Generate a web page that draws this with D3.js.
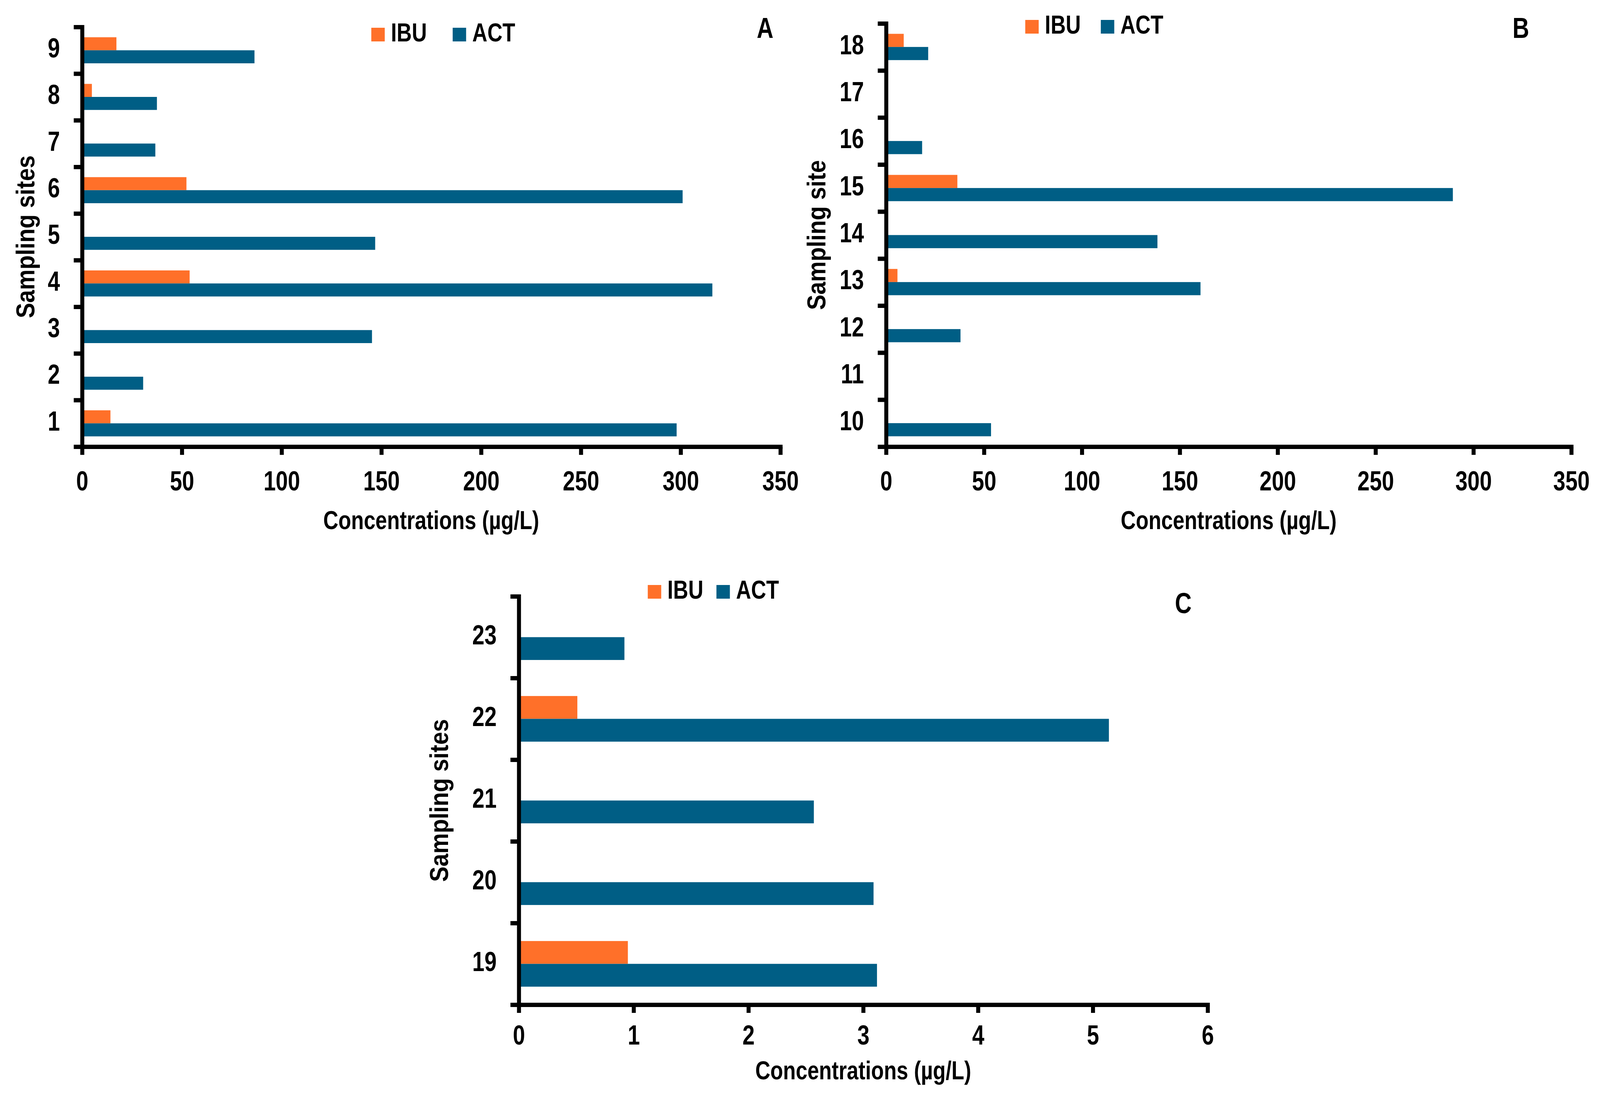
<!DOCTYPE html>
<html>
<head>
<meta charset="utf-8">
<script src="https://cdn.jsdelivr.net/npm/d3@7"></script>
<style>
  html, body { margin: 0; padding: 0; background: #fff; overflow: hidden; }
  #graph svg { display: block; width: 100vw; height: 100vh; }
  svg text { font-family: 'Liberation Sans', Arial, sans-serif; font-weight: bold; fill: #000; }
</style>
</head>
<body>
<div id="graph"></div>
<script>
// data
const sitesA = ['1', '2', '3', '4', '5', '6', '7', '8', '9']
const ibuA = [14.2, 0, 0, 53.9, 0, 52.3, 0, 4.9, 17.2]
const actA = [298.0, 30.6, 145.3, 315.9, 146.9, 301.0, 36.7, 37.5, 86.4]

const sitesB = ['10', '11', '12', '13', '14', '15', '16', '17', '18']
const ibuB = [0, 0, 0, 5.8, 0, 36.4, 0, 0, 9.0]
const actB = [53.6, 0, 38.0, 160.6, 138.6, 289.5, 18.4, 0, 21.5]

const sitesC = ['19', '20', '21', '22', '23']
const ibuC = [0.95, 0, 0, 0.51, 0]
const actC = [3.12, 3.09, 2.57, 5.14, 0.92]

const ticksAB = [0, 50, 100, 150, 200, 250, 300, 350]
const ticksC = [0, 1, 2, 3, 4, 5, 6]

const series = ['IBU', 'ACT']
const colors = { IBU: '#ff7029', ACT: '#005e85' }
const xTitle = 'Concentrations (µg/L)'

const W = 4404
const H = 2797

const svg = d3.select('#graph').append('svg')
  .attr('viewBox', `0 0 ${W} ${H}`)
  .attr('preserveAspectRatio', 'none')

// layout of the three panels (pixels)
const panels = [
  { sites: sitesA, ibu: ibuA, act: actA, max: 350, ticks: ticksAB, letter: 'A', yTitle: 'Sampling sites',
    left: 226, right: 2148, top: 69, bottom: 1143, yTitleX: 95, xTitleY: 1354, tickY: 112,
    letterX: 2106, letterY: 97, legendX: [1022, 1246], legendY: 106 },
  { sites: sitesB, ibu: ibuB, act: actB, max: 350, ticks: ticksAB, letter: 'B', yTitle: 'Sampling site',
    left: 2439, right: 4325, top: 60, bottom: 1143, yTitleX: 2272, xTitleY: 1354, tickY: 112,
    letterX: 4186, letterY: 97, legendX: [2822, 3030], legendY: 86 },
  { sites: sitesC, ibu: ibuC, act: actC, max: 6, ticks: ticksC, letter: 'C', yTitle: 'Sampling sites',
    left: 1428, right: 3324, top: 1526, bottom: 2571, yTitleX: 1233, xTitleY: 2762, tickY: 102,
    letterX: 3257, letterY: 1569, legendX: [1783, 1972], legendY: 1532 }
]

const axisWidth = 11
const squeeze = 0.86 // the figure uses a narrow bold face

const drawPanel = (p) => {
  const g = svg.append('g')

  const x = d3.scaleLinear().domain([0, p.max]).range([p.left, p.right])
  const y = d3.scaleBand().domain(p.sites.slice().reverse()).range([p.top, p.bottom])
  const yInner = d3.scaleBand().domain(series).range([0, y.bandwidth()])
    .paddingInner(0).paddingOuter(0.79)
  const yEdge = d3.scaleLinear().domain([0, p.sites.length]).range([p.bottom, p.top])

  const rows = p.sites.map((s, i) => ({ site: s, IBU: p.ibu[i], ACT: p.act[i] }))

  // bars
  g.append('g').selectAll('g').data(rows).join('g')
    .attr('transform', (d) => `translate(0,${y(d.site)})`)
    .selectAll('rect')
    .data((d) => series.map((k) => ({ key: k, value: d[k] })))
    .join('rect')
    .attr('x', x(0))
    .attr('y', (d) => yInner(d.key))
    .attr('width', (d) => x(d.value) - x(0))
    .attr('height', yInner.bandwidth())
    .attr('fill', (d) => colors[d.key])

  // x axis
  const xAxis = g.append('g')
    .attr('transform', `translate(0,${p.bottom})`)
    .call(d3.axisBottom(x).tickValues(p.ticks).tickFormat(d3.format('d')).tickSize(21).tickSizeOuter(0))
  xAxis.select('.domain').attr('stroke-width', axisWidth).attr('stroke-linecap', 'square')
  xAxis.selectAll('.tick line').attr('stroke-width', axisWidth)
  xAxis.selectAll('.tick text')
    .attr('y', 0).attr('dy', null)
    .attr('transform', `translate(0,${p.tickY}) scale(${squeeze},1)`)
    .style('font-size', '70px')

  // y axis: boundary ticks
  const yAxis = g.append('g')
    .attr('transform', `translate(${p.left},0)`)
    .call(d3.axisLeft(yEdge).tickValues(d3.range(p.sites.length + 1)).tickFormat('').tickSize(23).tickSizeOuter(0))
  yAxis.select('.domain').attr('stroke-width', axisWidth).attr('stroke-linecap', 'square')
  yAxis.selectAll('.tick line').attr('stroke-width', axisWidth)

  // y axis: site labels at band centres
  const yLabels = g.append('g')
    .attr('transform', `translate(${p.left},0)`)
    .call(d3.axisLeft(y).tickSize(0))
  yLabels.select('.domain').remove()
  yLabels.selectAll('.tick text')
    .attr('x', 0).attr('dy', '0.32em')
    .attr('transform', `translate(-61,-4) scale(${squeeze},1)`)
    .style('font-size', '70px')

  // axis titles
  g.append('text')
    .attr('transform', `translate(${(p.left + p.right) / 2},${p.xTitleY}) scale(0.87,1)`)
    .attr('text-anchor', 'middle')
    .style('font-size', '66px')
    .text(xTitle)

  g.append('text')
    .attr('transform', `translate(${p.yTitleX},${(p.top + p.bottom) / 2}) rotate(-90) scale(0.82,1)`)
    .attr('text-anchor', 'middle')
    .style('font-size', '72px')
    .text(p.yTitle)

  // panel letter
  g.append('text')
    .attr('transform', `translate(${p.letterX},${p.letterY}) scale(${squeeze},1)`)
    .attr('text-anchor', 'middle')
    .style('font-size', '74px')
    .text(p.letter)

  // legend
  const legend = g.append('g').selectAll('g').data(series).join('g')
    .attr('transform', (d, i) => `translate(${p.legendX[i]},${p.legendY})`)
  legend.append('rect')
    .attr('x', 0).attr('y', -35)
    .attr('width', 37).attr('height', 35)
    .attr('fill', (d) => colors[d])
  legend.append('text')
    .attr('transform', `translate(54,0) scale(0.87,1)`)
    .style('font-size', '66px')
    .text((d) => d)
}

panels.forEach(drawPanel)
</script>
</body>
</html>
